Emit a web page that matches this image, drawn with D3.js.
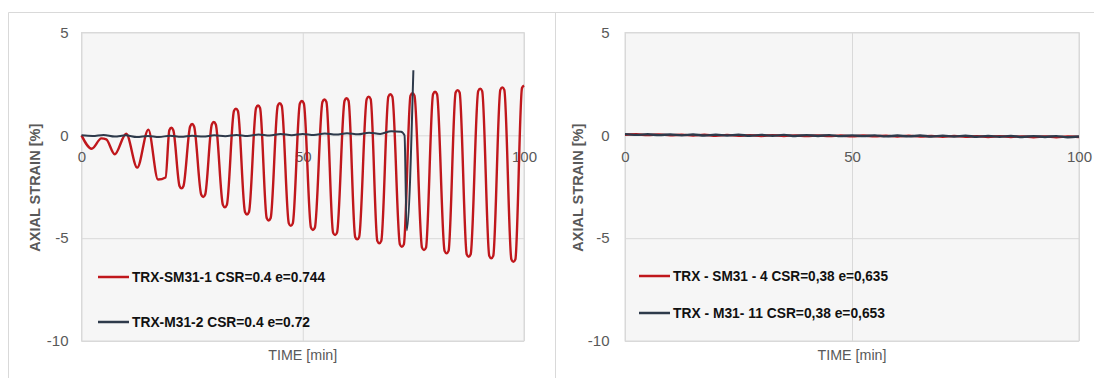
<!DOCTYPE html>
<html>
<head>
<meta charset="utf-8">
<script src="https://cdn.jsdelivr.net/npm/d3@7"></script>
<style>
  html, body { margin: 0; padding: 0; background: #ffffff; }
  svg { display: block; }
</style>
</head>
<body>
<svg id="chart" width="1094" height="378"></svg>
<script>
// ---------- DATA ----------
const xTicks = [0, 50, 100];
const yTicks = [-10, -5, 0, 5];
const xTitle = "TIME [min]";
const yTitle = "AXIAL STRAIN [%]";

// Left panel
const leftLegend = ["TRX-SM31-1 CSR=0.4 e=0.744", "TRX-M31-2 CSR=0.4 e=0.72"];
const sm31_1_time = [0, 2.3, 4.5, 5.6, 7.5, 10.1, 12.6, 15.1, 17.3, 19.0,
  19.85, 20.3, 20.75, 22.15, 22.6, 23.05, 24.55, 25.0, 25.45, 27.05, 27.5, 27.95,
  29.45, 29.9, 30.35, 31.95, 32.4, 32.85, 34.45, 34.9, 35.35, 36.95, 37.4, 37.85,
  39.45, 39.9, 40.35, 41.85, 42.3, 42.75, 44.35, 44.8, 45.25, 46.85, 47.3, 47.75,
  49.35, 49.8, 50.25, 51.85, 52.3, 52.75, 54.45, 54.9, 55.35, 56.85, 57.3, 57.75,
  59.45, 59.9, 60.35, 61.85, 62.3, 62.75, 64.45, 64.9, 65.35, 66.85, 67.3, 67.75,
  69.35, 69.8, 70.25, 71.95, 72.4, 72.85, 74.35, 74.8, 75.25, 76.95, 77.4, 77.85,
  79.45, 79.9, 80.35, 82.05, 82.5, 82.95, 84.55, 85.0, 85.45, 87.05, 87.5, 87.95,
  89.65, 90.1, 90.55, 92.15, 92.6, 93.05, 94.65, 95.1, 95.55, 97.15, 97.6, 98.05,
  99.55, 100];
const sm31_1_strain = [0, -0.65, -0.15, -0.2, -0.92, 0.08, -1.57, 0.28, -2.15, -2.05,
  0.25, 0.37, 0.25, -2.46, -2.58, -2.46, 0.43, 0.55, 0.43, -2.88, -3.0, -2.88,
  0.53, 0.65, 0.53, -3.38, -3.5, -3.38, 1.18, 1.3, 1.18, -3.73, -3.85, -3.73,
  1.33, 1.45, 1.33, -4.02, -4.14, -4.02, 1.44, 1.56, 1.44, -4.28, -4.4, -4.28,
  1.55, 1.67, 1.55, -4.48, -4.6, -4.48, 1.62, 1.74, 1.62, -4.73, -4.85, -4.73,
  1.68, 1.8, 1.68, -4.94, -5.06, -4.94, 1.76, 1.88, 1.76, -5.13, -5.25, -5.13,
  1.88, 2.0, 1.88, -5.3, -5.42, -5.3, 1.93, 2.05, 1.93, -5.46, -5.58, -5.46,
  2.0, 2.12, 2.0, -5.62, -5.74, -5.62, 2.08, 2.2, 2.08, -5.78, -5.9, -5.78,
  2.15, 2.27, 2.15, -5.86, -5.98, -5.86, 2.21, 2.33, 2.21, -6.03, -6.15, -6.03,
  2.3, 2.42];
const m31_2_time = [0, 2.5, 5, 7.5, 10, 12.5, 15, 17.5, 20, 22.5, 25, 27.5, 30, 32.5, 35, 37.5, 40, 42.5, 45, 47.5, 50, 52.5, 55, 57.5, 60, 62.5, 65, 67.5, 70, 72.2, 73.0, 73.5, 75.0];
const m31_2_strain = [0, -0.03, 0.02, -0.06, 0.0, -0.08, -0.03, -0.08, -0.02, -0.07, -0.02, -0.06, 0.0, -0.04, 0.02, -0.03, 0.04, -0.01, 0.06, 0.01, 0.07, 0.02, 0.09, 0.04, 0.1, 0.05, 0.13, 0.07, 0.2, 0.18, 0.0, -4.62, 3.16];

// Right panel
const rightLegend = ["TRX - SM31 - 4 CSR=0,38 e=0,635", "TRX - M31- 11 CSR=0,38 e=0,653"];
const rightTime = [0, 2.5, 5, 7.5, 10, 12.5, 15, 17.5, 20, 22.5, 25, 27.5, 30, 32.5, 35, 37.5, 40, 42.5, 45, 47.5, 50, 52.5, 55, 57.5, 60, 62.5, 65, 67.5, 70, 72.5, 75, 77.5, 80, 82.5, 85, 87.5, 90, 92.5, 95, 97.5, 100];
const sm31_4_strain = [0.03, 0.05, 0.01, 0.04, 0.0, 0.03, -0.01, 0.03, -0.02, 0.02, -0.02, 0.01, -0.03, 0.01, -0.03, 0.0, -0.04, 0.0, -0.04, -0.01, -0.05, -0.01, -0.05, -0.02, -0.06, -0.02, -0.06, -0.03, -0.07, -0.03, -0.07, -0.04, -0.08, -0.04, -0.08, -0.05, -0.09, -0.05, -0.09, -0.06, -0.08];
const m31_11_strain = [0.06, 0.02, 0.05, 0.01, 0.04, 0.0, 0.04, -0.01, 0.03, -0.01, 0.03, -0.02, 0.02, -0.02, 0.02, -0.03, 0.01, -0.03, 0.01, -0.04, 0.0, -0.04, 0.0, -0.05, -0.01, -0.05, -0.01, -0.06, -0.02, -0.06, -0.02, -0.07, -0.03, -0.07, -0.03, -0.08, -0.04, -0.08, -0.04, -0.09, -0.06];

const seriesColors = ["#c0171c", "#2e3a4b"];

// ---------- DRAW ----------
const svg = d3.select("#chart");
const FONT = "'Liberation Sans Narrow', 'Liberation Sans', sans-serif";
const fmt = d => String(d);

svg.append("path")
  .attr("d", "M8.5,400 L8.5,12.5 L1094,12.5 M555.5,12.5 L555.5,400")
  .attr("fill", "none").attr("stroke", "#d9d9d9").attr("stroke-width", 1);

function zip(t, v) { return t.map((d, i) => ({ t: d, v: v[i] })); }

function panel(cfg) {
  const x = d3.scaleLinear().domain([0, 100]).range([cfg.x0, cfg.x1]);
  const y = d3.scaleLinear().domain([-10, 5]).range([341, 32.5]);
  const g = svg.append("g");

  g.append("rect")
    .attr("x", x(0)).attr("y", y(5))
    .attr("width", x(100) - x(0)).attr("height", y(-10) - y(5))
    .attr("fill", "#f6f6f6").attr("stroke", "#d9d9d9").attr("stroke-width", 1);

  g.append("g").attr("transform", `translate(0,${y(-10)})`)
    .call(d3.axisBottom(x).tickValues(xTicks).tickSize(-(y(-10) - y(5))).tickFormat(""))
    .call(s => s.select(".domain").remove())
    .call(s => s.selectAll("line").attr("stroke", "#d9d9d9"));
  g.append("g").attr("transform", `translate(${x(0)},0)`)
    .call(d3.axisLeft(y).tickValues(yTicks).tickSize(-(x(100) - x(0))).tickFormat(""))
    .call(s => s.select(".domain").remove())
    .call(s => s.selectAll("line").attr("stroke", "#d9d9d9"));

  g.append("g").attr("transform", `translate(${x(0)},0)`)
    .call(d3.axisLeft(y).tickValues(yTicks).tickSize(0).tickPadding(cfg.yPad).tickFormat(fmt))
    .call(s => s.select(".domain").remove())
    .call(s => s.selectAll("text").attr("fill", "#595959").attr("font-size", 15).attr("font-family", FONT));

  g.append("g").attr("transform", `translate(0,${y(0)})`)
    .call(d3.axisBottom(x).tickValues(xTicks).tickSize(0).tickPadding(16).tickFormat(fmt))
    .call(s => s.select(".domain").remove())
    .call(s => s.selectAll("text").attr("fill", "#595959").attr("font-size", 15).attr("font-family", FONT));

  g.append("text")
    .attr("transform", `translate(${cfg.yTitleX},${(y(5) + y(-10)) / 2 + 1}) rotate(-90)`)
    .attr("text-anchor", "middle").attr("dy", "0.35em")
    .attr("font-family", FONT).attr("font-size", 15).attr("font-weight", "bold")
    .attr("fill", "#595959")
    .attr("textLength", 128).attr("lengthAdjust", "spacingAndGlyphs")
    .text(yTitle);
  g.append("text")
    .attr("x", (x(0) + x(100)) / 2).attr("y", 355)
    .attr("text-anchor", "middle").attr("dy", "0.35em")
    .attr("font-family", FONT).attr("font-size", 15)
    .attr("fill", "#595959")
    .attr("textLength", 69).attr("lengthAdjust", "spacingAndGlyphs")
    .text(xTitle);

  const line = d3.line().x(d => x(d.t)).y(d => y(d.v)).curve(d3.curveMonotoneX);
  cfg.series.forEach((s, i) => {
    g.append("path")
      .datum(zip(s.t, s.v))
      .attr("fill", "none")
      .attr("stroke", seriesColors[i])
      .attr("stroke-width", s.w)
      .attr("stroke-linejoin", "round")
      .attr("d", line);
  });

  cfg.legend.forEach((lab, i) => {
    const ly = cfg.legY[i];
    g.append("line")
      .attr("x1", cfg.legX).attr("x2", cfg.legX + 31)
      .attr("y1", ly).attr("y2", ly)
      .attr("stroke", seriesColors[i]).attr("stroke-width", 2.5);
    g.append("text")
      .attr("x", cfg.legX + 34).attr("y", ly).attr("dy", "0.36em")
      .attr("font-family", FONT).attr("font-size", 15).attr("font-weight", "bold")
      .attr("fill", "#111111")
      .attr("textLength", cfg.legW[i]).attr("lengthAdjust", "spacingAndGlyphs")
      .text(lab);
  });
}

panel({
  x0: 81.5, x1: 524, yPad: 13, yTitleX: 35,
  series: [
    { t: sm31_1_time, v: sm31_1_strain, w: 2.4 },
    { t: m31_2_time, v: m31_2_strain, w: 2 }
  ],
  legend: leftLegend, legX: 98, legY: [277, 322], legW: [193, 178]
});

panel({
  x0: 625, x1: 1079, yPad: 15.5, yTitleX: 578,
  series: [
    { t: rightTime, v: sm31_4_strain, w: 2.4 },
    { t: rightTime, v: m31_11_strain, w: 2.4 }
  ],
  legend: rightLegend, legX: 639, legY: [276, 313], legW: [215, 212]
});
</script>
</body>
</html>
